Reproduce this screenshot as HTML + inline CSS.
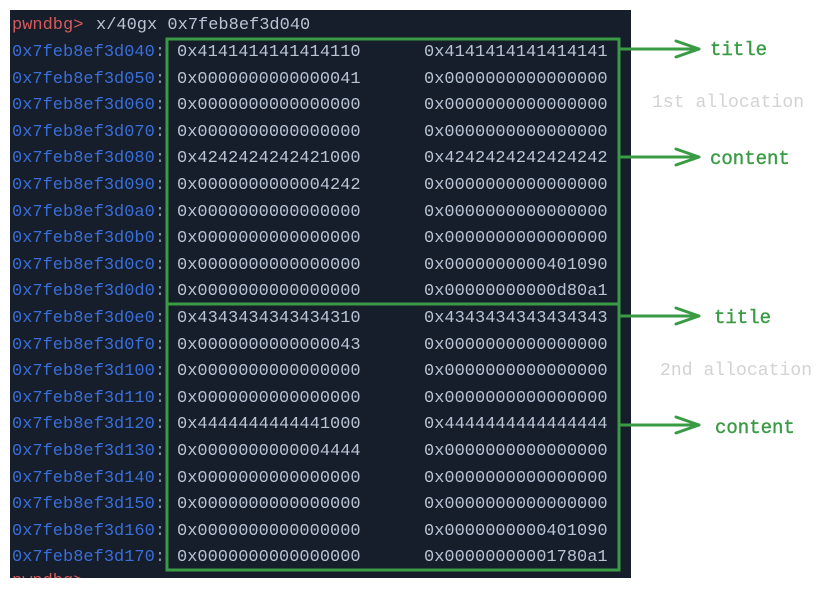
<!DOCTYPE html>
<html><head><meta charset="utf-8"><style>
html,body{margin:0;padding:0;background:#fff;}
svg text{font-family:"Liberation Mono","DejaVu Sans Mono",monospace;}
</style></head><body>
<svg width="823" height="587" viewBox="0 0 823 587" xmlns="http://www.w3.org/2000/svg">
<rect x="10" y="10" width="621" height="568" fill="#161d2b"/>
<g font-size="17">
<text x="12" y="29" fill="#d55b5b">pwndbg&gt;</text>
<text x="96" y="29" fill="#b8c4d4">x/40gx 0x7feb8ef3d040</text>
<g fill="#3a6fd8">
<text x="12" y="56">0x7feb8ef3d040<tspan fill="#8a96a8">:</tspan></text>
<text x="12" y="83">0x7feb8ef3d050<tspan fill="#8a96a8">:</tspan></text>
<text x="12" y="109">0x7feb8ef3d060<tspan fill="#8a96a8">:</tspan></text>
<text x="12" y="136">0x7feb8ef3d070<tspan fill="#8a96a8">:</tspan></text>
<text x="12" y="162">0x7feb8ef3d080<tspan fill="#8a96a8">:</tspan></text>
<text x="12" y="189">0x7feb8ef3d090<tspan fill="#8a96a8">:</tspan></text>
<text x="12" y="216">0x7feb8ef3d0a0<tspan fill="#8a96a8">:</tspan></text>
<text x="12" y="242">0x7feb8ef3d0b0<tspan fill="#8a96a8">:</tspan></text>
<text x="12" y="269">0x7feb8ef3d0c0<tspan fill="#8a96a8">:</tspan></text>
<text x="12" y="295">0x7feb8ef3d0d0<tspan fill="#8a96a8">:</tspan></text>
<text x="12" y="322">0x7feb8ef3d0e0<tspan fill="#8a96a8">:</tspan></text>
<text x="12" y="349">0x7feb8ef3d0f0<tspan fill="#8a96a8">:</tspan></text>
<text x="12" y="375">0x7feb8ef3d100<tspan fill="#8a96a8">:</tspan></text>
<text x="12" y="402">0x7feb8ef3d110<tspan fill="#8a96a8">:</tspan></text>
<text x="12" y="428">0x7feb8ef3d120<tspan fill="#8a96a8">:</tspan></text>
<text x="12" y="455">0x7feb8ef3d130<tspan fill="#8a96a8">:</tspan></text>
<text x="12" y="482">0x7feb8ef3d140<tspan fill="#8a96a8">:</tspan></text>
<text x="12" y="508">0x7feb8ef3d150<tspan fill="#8a96a8">:</tspan></text>
<text x="12" y="535">0x7feb8ef3d160<tspan fill="#8a96a8">:</tspan></text>
<text x="12" y="561">0x7feb8ef3d170<tspan fill="#8a96a8">:</tspan></text>
</g>
<g fill="#b8c4d4">
<text x="177" y="56">0x4141414141414110</text><text x="424" y="56">0x4141414141414141</text>
<text x="177" y="83">0x0000000000000041</text><text x="424" y="83">0x0000000000000000</text>
<text x="177" y="109">0x0000000000000000</text><text x="424" y="109">0x0000000000000000</text>
<text x="177" y="136">0x0000000000000000</text><text x="424" y="136">0x0000000000000000</text>
<text x="177" y="162">0x4242424242421000</text><text x="424" y="162">0x4242424242424242</text>
<text x="177" y="189">0x0000000000004242</text><text x="424" y="189">0x0000000000000000</text>
<text x="177" y="216">0x0000000000000000</text><text x="424" y="216">0x0000000000000000</text>
<text x="177" y="242">0x0000000000000000</text><text x="424" y="242">0x0000000000000000</text>
<text x="177" y="269">0x0000000000000000</text><text x="424" y="269">0x0000000000401090</text>
<text x="177" y="295">0x0000000000000000</text><text x="424" y="295">0x00000000000d80a1</text>
<text x="177" y="322">0x4343434343434310</text><text x="424" y="322">0x4343434343434343</text>
<text x="177" y="349">0x0000000000000043</text><text x="424" y="349">0x0000000000000000</text>
<text x="177" y="375">0x0000000000000000</text><text x="424" y="375">0x0000000000000000</text>
<text x="177" y="402">0x0000000000000000</text><text x="424" y="402">0x0000000000000000</text>
<text x="177" y="428">0x4444444444441000</text><text x="424" y="428">0x4444444444444444</text>
<text x="177" y="455">0x0000000000004444</text><text x="424" y="455">0x0000000000000000</text>
<text x="177" y="482">0x0000000000000000</text><text x="424" y="482">0x0000000000000000</text>
<text x="177" y="508">0x0000000000000000</text><text x="424" y="508">0x0000000000000000</text>
<text x="177" y="535">0x0000000000000000</text><text x="424" y="535">0x0000000000401090</text>
<text x="177" y="561">0x0000000000000000</text><text x="424" y="561">0x00000000001780a1</text>
</g>
<text x="12" y="585" fill="#d55b5b">pwndbg&gt;</text>
</g>
<rect x="10" y="578" width="621" height="9" fill="#fff"/>
<g fill="none" stroke="#3a9b45" stroke-width="3">
<rect x="167" y="39" width="452" height="265"/>
<rect x="167" y="304" width="452" height="266"/>
<g stroke-linecap="round" stroke-linejoin="round">
<path d="M620 49H699M676 41L699 49L676 57"/>
<path d="M620 157H699M676 149L699 157L676 165"/>
<path d="M620 316H699M676 308L699 316L676 324"/>
<path d="M620 425H699M676 417L699 425L676 433"/>
</g>
</g>
<g fill="#3a9b45" font-size="19" stroke="#3a9b45" stroke-width="0.4">
<text x="710" y="55">title</text>
<text x="710" y="164">content</text>
<text x="714" y="323">title</text>
<text x="715" y="433">content</text>
</g>
<g fill="#d2d2d2" font-size="18">
<text x="652" y="107" textLength="152">1st allocation</text>
<text x="660" y="375" textLength="152">2nd allocation</text>
</g>
</svg>
</body></html>
